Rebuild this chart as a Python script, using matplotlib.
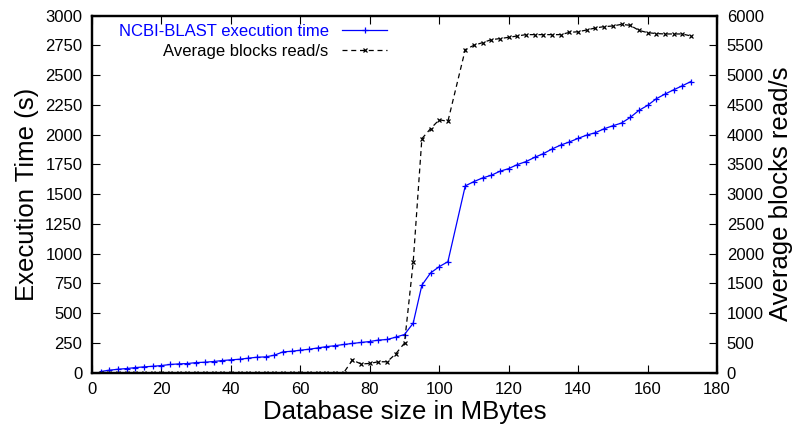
import matplotlib
matplotlib.use("Agg")
import matplotlib.pyplot as plt
import numpy as np

plt.rcParams['font.family'] = ['Liberation Sans', 'DejaVu Sans']

# database sizes (MB) - no run at 105
sizes = [2.5, 5, 7.5, 10, 12.5, 15, 17.5, 20, 22.5, 25, 27.5, 30, 32.5, 35,
         37.5, 40, 42.5, 45, 47.5, 50, 52.5, 55, 57.5, 60, 62.5, 65, 67.5, 70,
         72.5, 75, 77.5, 80, 82.5, 85, 87.5, 90, 92.5, 95, 97.5, 100, 102.5,
         107.5, 110, 112.5, 115, 117.5, 120, 122.5, 125, 127.5, 130, 132.5,
         135, 137.5, 140, 142.5, 145, 147.5, 150, 152.5, 155, 157.5, 160,
         162.5, 165, 167.5, 170, 172.5]

exec_time = [10, 21, 29, 35, 43, 49, 54, 60, 69, 74, 77, 85, 88, 94,
             102, 108, 113, 122, 130, 133, 147, 175, 180, 189, 197, 208, 219, 227,
             237, 246, 254, 262, 274, 279, 299, 321, 416, 735, 838, 891, 933,
             1570, 1606, 1637, 1659, 1693, 1715, 1749, 1774, 1810, 1841, 1880,
             1913, 1939, 1969, 1997, 2017, 2050, 2075, 2098, 2145, 2204, 2246,
             2302, 2341, 2377, 2411, 2447]

blocks_read = [0, 0, 0, 0, 0, 0, 0, 0, 0, 0, 0, 0, 0, 0,
               0, 0, 0, 0, 0, 0, 0, 0, 0, 0, 0, 0, 0, 0,
               0, 213, 146, 156, 184, 184, 318, 498, 1855, 3933, 4101, 4251, 4224,
               5430, 5503, 5547, 5598, 5615, 5637, 5659, 5682, 5682, 5682, 5682,
               5682, 5720, 5730, 5760, 5795, 5816, 5827, 5855, 5838, 5754, 5715,
               5700, 5693, 5693, 5693, 5659]

fig = plt.figure(figsize=(7.97, 4.24), dpi=100)
ax = fig.add_axes([92/797, 1 - 372.7/424, (717 - 92)/797, (372.7 - 15.7)/424])
ax2 = ax.twinx()

l1, = ax.plot(sizes, exec_time, color='#0000ff', lw=0.9, marker='+',
              ms=5, mew=0.9, label='NCBI-BLAST execution time')
l2, = ax2.plot(sizes, blocks_read, color='black', lw=0.9, marker='x',
               ms=3.5, mew=0.9, dashes=(4, 3), label='Average blocks read/s')

ax.set_xlim(0, 180)
ax.set_ylim(0, 3000)
ax2.set_ylim(0, 6000)
ax.set_xticks(np.arange(0, 181, 20))
ax.set_yticks(np.arange(0, 3001, 250))
ax2.set_yticks(np.arange(0, 6001, 500))

ax.tick_params(axis='x', direction='in', top=True, length=6, width=0.8,
               labelsize=12, pad=7)
ax.tick_params(axis='y', direction='in', right=False, length=6, width=0.8,
               labelsize=12, pad=7)
ax2.tick_params(axis='y', direction='in', length=6, width=0.8,
                labelsize=12, pad=7)
for a in (ax, ax2):
    for s in a.spines.values():
        s.set_linewidth(1.6)

ax.set_xlabel('Database size in MBytes', fontsize=18.5, labelpad=2)
ax.set_ylabel('Execution Time (s)', fontsize=18.5, labelpad=4)
ax2.set_ylabel('Average blocks read/s', fontsize=18.5, labelpad=4)

leg = ax2.legend(handles=[l1, l2], loc='upper right',
                 bbox_to_anchor=(387/797, 1 - 24/424),
                 bbox_transform=fig.transFigure, frameon=False,
                 markerfirst=False, fontsize=12, handlelength=2.7,
                 handletextpad=0.8, labelspacing=0.28, borderpad=0,
                 borderaxespad=0)
leg.get_texts()[0].set_color('#0000ff')

fig.savefig('out.png', dpi=100)
